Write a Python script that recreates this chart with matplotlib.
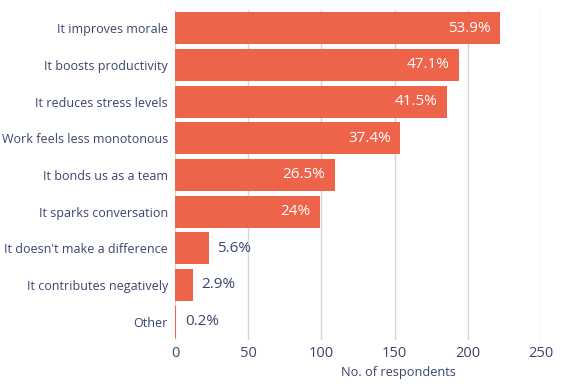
import matplotlib.pyplot as plt

# Survey answers, top to bottom
answers = ["It improves morale", "It boosts productivity", "It reduces stress levels",
           "Work feels less monotonous", "It bonds us as a team", "It sparks conversation",
           "It doesn't make a difference", "It contributes negatively", "Other"]
respondents = [222, 194, 186, 154, 109, 99, 23, 12, 1]
pct_labels = ["53.9%", "47.1%", "41.5%", "37.4%", "26.5%", "24%", "5.6%", "2.9%", "0.2%"]

bar_color = "#ee644a"
text_color = "#3b4470"

plt.rcParams['font.family'] = ['Open Sans', 'DejaVu Sans']

fig = plt.figure(figsize=(5.76, 3.84), dpi=100)
ax = fig.add_axes([175 / 576, 44 / 384, 366 / 576, 330 / 384])

y = list(range(len(answers)))
ax.barh(y, respondents, height=0.87, color=bar_color, zorder=3)
ax.set_ylim(len(answers) - 0.5, -0.5)
ax.set_xlim(0, 250)
ax.set_xticks([0, 50, 100, 150, 200, 250])
ax.set_yticks(y)
ax.set_yticklabels(answers, fontsize=9.0, color=text_color)
ax.tick_params(axis='x', labelsize=10.5, labelcolor=text_color, length=0, pad=4)
ax.tick_params(axis='y', length=0, pad=5)
ax.grid(axis='x', color="#d6d6d6", linewidth=1, zorder=0)
for s in ax.spines.values():
    s.set_visible(False)

# percentage labels: inside long bars, outside short ones
for yi, v, lab in zip(y, respondents, pct_labels):
    if v > 60:
        ax.annotate(lab, (v, yi), xytext=(-7, 0), textcoords='offset points',
                    ha='right', va='center', color='white', fontsize=11)
    else:
        ax.annotate(lab, (v, yi), xytext=(6, 0), textcoords='offset points',
                    ha='left', va='center', color=text_color, fontsize=11)

ax.set_xlabel("No. of respondents", fontsize=9.2, color=text_color)
ax.xaxis.set_label_coords((398 - 175) / 366, -0.08)

fig.savefig("out.png", dpi=100)
